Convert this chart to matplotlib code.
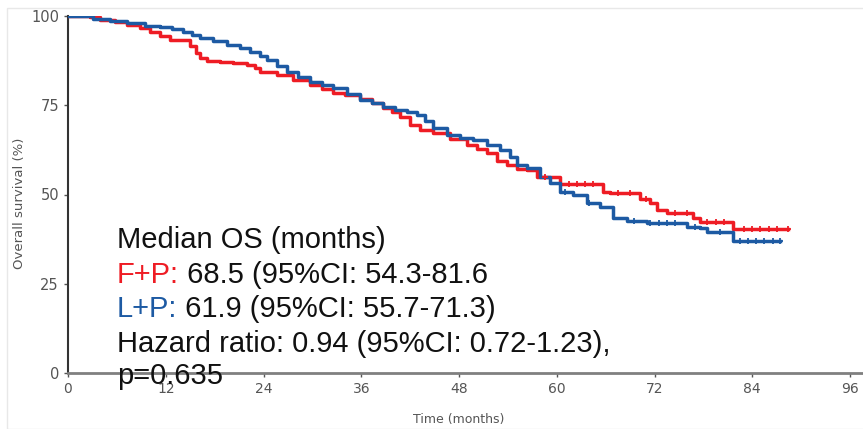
import numpy as np
import matplotlib.pyplot as plt
from matplotlib.patches import Rectangle

# F+P arm (red): step times in months and survival in %
fp_time = [0, 2.7, 3.9, 5.8, 7.2, 8.8, 10.1, 11.3, 12.5, 15.0, 15.7, 16.2, 17.1,
           18.7, 20.3, 22.0, 23.0, 23.6, 25.7, 27.6, 29.7, 31.2, 32.5, 34.0, 35.8,
           37.3, 38.7, 39.8, 40.8, 42.0, 43.2, 44.8, 46.9, 49.0, 50.2, 51.4, 52.7,
           53.9, 55.1, 56.3, 57.6, 60.4, 65.7, 66.5, 70.2, 71.4, 72.3, 73.5, 76.7,
           77.6, 81.6, 88.4]
fp_surv = [100, 99.6, 98.8, 98.2, 97.5, 96.6, 95.5, 94.4, 93.4, 91.5, 89.5, 88.2, 87.5,
           87.0, 86.7, 86.2, 85.3, 84.4, 83.5, 82.1, 80.8, 79.5, 78.5, 77.9, 76.8,
           75.6, 74.2, 73.0, 71.8, 69.5, 68.0, 67.2, 65.5, 63.9, 62.8, 61.6, 59.5,
           58.3, 57.2, 56.9, 54.8, 52.9, 50.8, 50.4, 48.7, 47.7, 45.7, 44.8, 43.4,
           42.4, 40.4, 40.4]

# L+P arm (blue)
lp_time = [0, 3.1, 5.2, 7.2, 9.5, 11.3, 12.8, 14.1, 15.2, 16.2, 17.8, 19.5, 21.1,
           22.3, 23.6, 24.4, 25.7, 26.9, 28.2, 29.7, 31.2, 32.5, 34.2, 35.8, 37.3,
           38.7, 40.1, 41.6, 42.8, 43.8, 44.8, 46.5, 48.1, 49.7, 51.4, 53.0, 54.3,
           55.1, 56.3, 57.9, 59.2, 60.4, 62.0, 63.7, 65.3, 66.9, 68.6, 71.1, 76.0,
           77.6, 78.4, 81.6, 87.4]
lp_surv = [100, 99.1, 98.5, 97.9, 97.3, 97.0, 96.3, 95.6, 94.8, 93.7, 93.0, 91.9, 91.0,
           90.0, 88.8, 87.7, 86.0, 84.4, 83.0, 81.6, 80.6, 79.7, 78.2, 76.5, 75.5,
           74.6, 73.8, 73.2, 72.3, 70.5, 68.6, 66.8, 65.8, 65.3, 64.0, 62.5, 60.5,
           58.3, 57.4, 55.0, 53.2, 50.8, 49.9, 47.6, 46.5, 43.4, 42.7, 42.1, 41.0,
           40.6, 39.6, 37.0, 37.0]

# censoring ticks
fp_cens = [58.5, 61.5, 62.5, 63.5, 64.5, 67.5, 69.0, 71.0, 74.5, 76.0, 78.5, 79.5,
           80.5, 83.0, 84.0, 85.0, 86.0, 87.0, 88.4]
lp_cens = [61.0, 64.0, 69.5, 71.5, 72.5, 73.5, 74.5, 77.0, 80.0, 82.5, 83.5, 84.5,
           85.5, 86.5, 87.4]

x_ticks = [0, 12, 24, 36, 48, 60, 72, 84, 96]
y_ticks = [0, 25, 50, 75, 100]

red = '#ee1c24'
blue = '#1d5aa3'


def surv_at(times, surv, t):
    i = np.searchsorted(times, t, side='right') - 1
    return np.array(surv)[i]


fig = plt.figure(figsize=(8.63, 4.29), dpi=100)
W, H = 863, 429
ax = fig.add_axes([68 / W, 1 - 373 / H, (863 - 68) / W, (373 - 16) / H])

# faint border of the screenshot
fig.patches.append(Rectangle((7 / W, 0), 1, 1 - 8 / H, transform=fig.transFigure,
                             fill=False, edgecolor='#e8e8e8', lw=1.0))

ax.step(fp_time, fp_surv, where='post', color=red, lw=2.5, zorder=3)
ax.step(lp_time, lp_surv, where='post', color=blue, lw=2.5, zorder=3)
ax.plot(fp_cens, surv_at(fp_time, fp_surv, fp_cens), '+', color=red, ms=5, mew=1.3, zorder=3)
ax.plot(lp_cens, surv_at(lp_time, lp_surv, lp_cens), '+', color=blue, ms=5, mew=1.3, zorder=3)

ax.set_xlim(0, (863 - 68) / 8.146)
ax.set_ylim(0, 100)
ax.set_xticks(x_ticks)
ax.set_yticks(y_ticks)
ax.tick_params(axis='both', labelsize=10.5, labelcolor='#555555', color='#555555',
               length=3, width=1)
ax.tick_params(axis='x', labelsize=10)
for lab in ax.get_xticklabels() + ax.get_yticklabels():
    lab.set_family('DejaVu Sans')
ax.spines['top'].set_visible(False)
ax.spines['right'].set_visible(False)
ax.spines['left'].set_color('#333333')
ax.spines['left'].set_linewidth(1.5)
ax.spines['bottom'].set_color('#808080')
ax.spines['bottom'].set_linewidth(2)
ax.spines['bottom'].set_zorder(6)

fig.text(20 / W, 1 - 203 / H, 'Overall survival (%)', rotation=90, ha='center',
         va='center', fontsize=9.5, color='#555555', family='DejaVu Sans')
fig.text(459 / W, 1 - 419 / H, 'Time (months)', ha='center', va='center',
         fontsize=9, color='#555555', family='DejaVu Sans')

# annotation block
tx = 117 / W
fs = 21
fam = 'Liberation Sans'
fig.text(tx, 1 - 248 / H, 'Median OS (months)', fontsize=fs, family=fam,
         color='#111111', va='baseline', zorder=5)
t1 = fig.text(tx, 1 - 283 / H, 'F+P:', fontsize=fs, family=fam, color=red,
              va='baseline', zorder=5)
fig.canvas.draw()
bb = t1.get_window_extent()
fig.text(bb.x1 / W, 1 - 283 / H, ' 68.5 (95%CI: 54.3-81.6', fontsize=fs, family=fam,
         color='#111111', va='baseline', zorder=5)
t2 = fig.text(tx, 1 - 317 / H, 'L+P:', fontsize=fs, family=fam, color=blue,
              va='baseline', zorder=5)
bb = t2.get_window_extent()
fig.text(bb.x1 / W, 1 - 317 / H, ' 61.9 (95%CI: 55.7-71.3)', fontsize=fs, family=fam,
         color='#111111', va='baseline', zorder=5)
fig.text(tx, 1 - 352 / H, 'Hazard ratio: 0.94 (95%CI: 0.72-1.23),', fontsize=fs,
         family=fam, color='#111111', va='baseline', zorder=5)
fig.text(tx, 1 - 384 / H, 'p=0.635', fontsize=fs, family=fam, color='#111111',
         va='baseline', zorder=1)

fig.savefig('out.png', dpi=100)
